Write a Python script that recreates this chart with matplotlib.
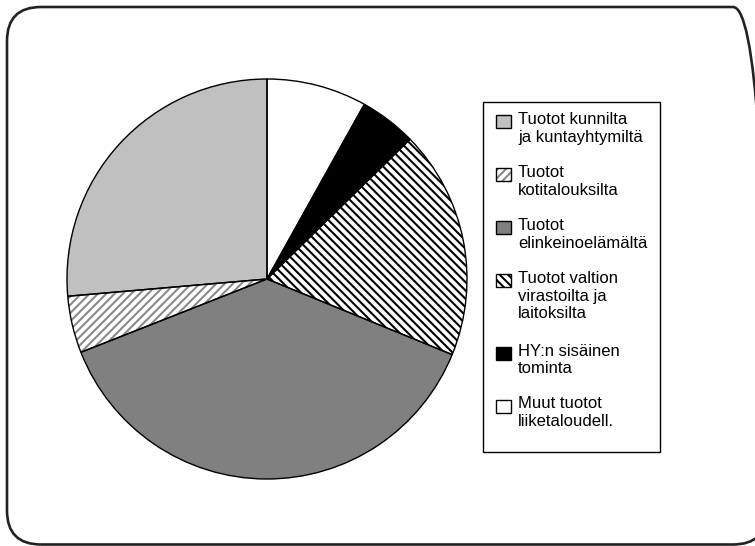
import matplotlib
matplotlib.use("Agg")
import matplotlib.pyplot as plt
from matplotlib.patches import FancyBboxPatch, Rectangle
from matplotlib.transforms import IdentityTransform

plt.rcParams['font.family'] = ['Liberation Sans', 'DejaVu Sans']
plt.rcParams['hatch.linewidth'] = 1.5

labels = [
    'Tuotot kunnilta\nja kuntayhtymiltä',
    'Tuotot\nkotitalouksilta',
    'Tuotot\nelinkeinoelämältä',
    'Tuotot valtion\nvirastoilta ja\nlaitoksilta',
    'HY:n sisäinen\ntominta',
    'Muut tuotot\nliiketaloudell.',
]
shares = [26.4, 4.6, 37.9, 18.5, 4.6, 8.1]

colors = ['#c0c0c0', 'white', '#808080', 'white', 'black', 'white']
hatches = [None, '////', None, '\\\\\\\\', None, None]
hatch_colors = [None, '#8a8a8a', None, 'black', None, None]

W, H = 755, 546
fig = plt.figure(figsize=(W / 100, H / 100), dpi=100)


def fx(x):
    return x / W


def fy(y):
    return 1 - y / H


# outer rounded frame (pixel coords, origin bottom-left); right side runs off the canvas
frame = FancyBboxPatch((7, 1.5), 760, H - 7 - 1.5,
                       boxstyle='round,pad=0,rounding_size=34',
                       transform=IdentityTransform(), fill=False,
                       edgecolor='#222222', linewidth=1.9)
fig.add_artist(frame)

### Pie
ax = fig.add_axes([fx(67), fy(479), 400 / W, 400 / H])
wedges, _ = ax.pie(shares, colors=colors, startangle=90, radius=1,
                   wedgeprops=dict(linewidth=0))
for w, h, hc in zip(wedges, hatches, hatch_colors):
    if h:
        w.set_hatch(h)
        w.set_edgecolor(hc)
ax.pie(shares, colors=['none'] * len(shares), startangle=90, radius=1,
       wedgeprops=dict(edgecolor='black', linewidth=1))
ax.set_xlim(-1, 1)
ax.set_ylim(-1, 1)
ax.axis('off')

### Legend box
lx0, ly0, lx1, ly1 = 483, 102, 660, 452
fig.add_artist(Rectangle((fx(lx0), fy(ly1)), (lx1 - lx0) / W, (ly1 - ly0) / H,
                         transform=fig.transFigure, fill=False,
                         edgecolor='black', linewidth=1))

line_h = 19.5
gap = 14
y = 115
for lab, col, hat, hc in zip(labels, colors, hatches, hatch_colors):
    box = (fx(496), fy(y + 13))
    bw, bh = 15 / W, 13 / H
    fig.add_artist(Rectangle(box, bw, bh, transform=fig.transFigure,
                             facecolor=col, hatch=hat,
                             edgecolor=hc if hc else col, linewidth=0))
    fig.add_artist(Rectangle(box, bw, bh, transform=fig.transFigure,
                             fill=False, edgecolor='black', linewidth=1))
    fig.text(fx(518), fy(y - 3), lab, fontsize=12, va='top', ha='left',
             linespacing=1.22, color='black')
    y += (lab.count('\n') + 1) * line_h + gap

fig.savefig('out.png', dpi=100)
